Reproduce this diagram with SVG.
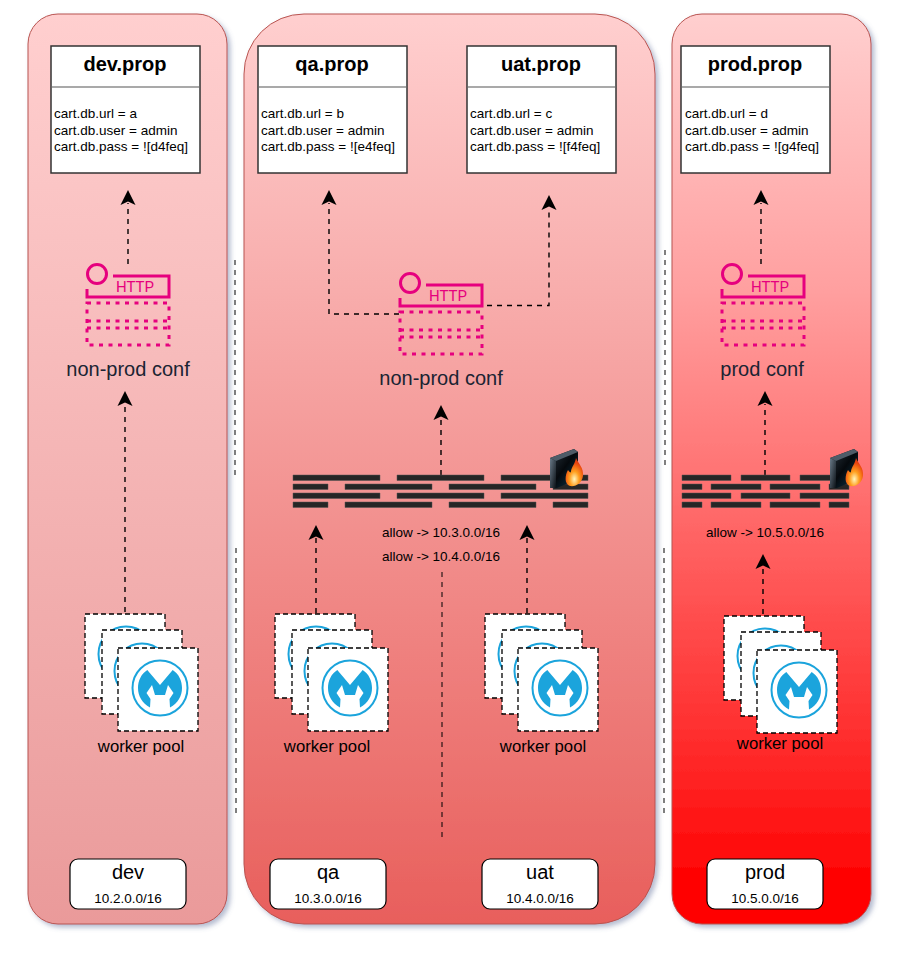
<svg xmlns="http://www.w3.org/2000/svg" width="900" height="954" viewBox="0 0 900 954">
<style>
text{font-family:"Liberation Sans",Arial,sans-serif;fill:#000}
.panel{stroke:#b85450;stroke-width:1;filter:url(#sh)}
.box{fill:#fff;stroke:#333;stroke-width:1.5}
.title{font-size:20px;font-weight:bold;text-anchor:middle}
.prop{font-size:13.5px}
.sep{stroke:#8c8c8c;stroke-width:1.5}
.plain{fill:none;stroke:#000;stroke-width:1.4;stroke-dasharray:5 5}
.div{fill:none;stroke:#000;stroke-width:1;stroke-dasharray:5 5}
.env{fill:#fff;stroke:#000;stroke-width:1.2}
.envt{font-size:20px;text-anchor:middle}
.envs{font-size:13.5px;text-anchor:middle}
.lab{font-size:20px;text-anchor:middle;fill:#1a2433}
.wp{font-size:16.7px;text-anchor:middle}
.allow{font-size:13.5px;text-anchor:middle}
.card{fill:#fff;stroke:#000;stroke-width:1.3;stroke-dasharray:5 3}
.mring{fill:none;stroke:#1ba4dc;stroke-width:2}
.wall{fill:#262626;stroke:#555;stroke-width:.5}
.pk{fill:none;stroke:#e6007e;stroke-width:3}
.pkd{fill:none;stroke:#e6007e;stroke-width:3;stroke-dasharray:4 5.500}
.http{font-size:15px;fill:#e6007e;text-anchor:middle;font-family:Roboto,"Liberation Sans",sans-serif}
</style>
<defs>
<linearGradient id="g1" x1="0" y1="0" x2="0" y2="1"><stop offset="0" stop-color="#ffcfcf"/><stop offset="1" stop-color="#ea9a9a"/></linearGradient>
<linearGradient id="g2" x1="0" y1="0" x2="0" y2="1"><stop offset="0" stop-color="#ffcfcf"/><stop offset="1" stop-color="#e85f5c"/></linearGradient>
<linearGradient id="g3" x1="0" y1="0" x2="0" y2="1"><stop offset="0" stop-color="#ffcfcf"/><stop offset=".3" stop-color="#ffa0a0"/><stop offset=".53" stop-color="#ff6e6e"/><stop offset=".85" stop-color="#ff2020"/><stop offset=".96" stop-color="#ff0000"/></linearGradient>
<linearGradient id="fb" x1="0" y1="0" x2="1" y2="1"><stop offset="0" stop-color="#6a7a88"/><stop offset="1" stop-color="#0a1015"/></linearGradient>
<linearGradient id="ff" x1="0" y1="0" x2="1" y2="1"><stop offset="0" stop-color="#2a3640"/><stop offset=".5" stop-color="#05090d"/><stop offset="1" stop-color="#0d3a50"/></linearGradient>
<radialGradient id="fl" cx=".5" cy=".75" r=".6"><stop offset="0" stop-color="#fff6c0"/><stop offset=".45" stop-color="#ffa020"/><stop offset="1" stop-color="#e8400c"/></radialGradient>
<filter id="sh" x="-5%" y="-5%" width="115%" height="110%"><feDropShadow dx="3" dy="3" stdDeviation="2.500" flood-color="#5a6a98" flood-opacity=".45"/></filter>
<path id="ah" d="M0 0-7.500 15 0 11.500 7.500 15Z" fill="#000"/>
<g id="api">
<circle cx="16" cy="13" r="9.500" class="pk"/>
<path class="pk" d="M32 15H88V36H6V28"/>
<text x="54" y="31" class="http">HTTP</text>
<rect x="6" y="42" width="82" height="42" class="pkd"/>
<path class="pkd" d="M6 60H88M6 67H88"/>
</g>
<g id="mule">
<circle r="27.500" class="mring"/>
<path fill="#1ba4dc" d="M-12.700-18 0-3 12.700-18C19-14 22-7 22 0 22 8 18 15 10 19.500L9.500 11 13.500 5 8-3 5 7H-5L-8-3-13.500 5-9.500 11-10 19.500C-18 15-22 8-22 0-22-7-19-14-12.700-18Z"/>
</g>
<g id="pool">
<rect x="0" y="0" width="80" height="84" class="card"/>
<circle cx="41" cy="40" r="27.500" class="mring"/>
<rect x="17" y="16" width="80" height="84" class="card"/>
<circle cx="57" cy="57" r="27.500" class="mring"/>
<rect x="33" y="34" width="80" height="83" class="card"/>
<use href="#mule" x="75" y="74"/>
</g>
<g id="fire">
<path fill="url(#ff)" d="M0 9 24 0 28 3V30L7 39H0Z"/>
<path fill="url(#fb)" d="M0 9 6 12V39H0Z"/>
<path fill="#4f5c68" d="M0 9 24 0 28 3 6 12Z"/>
<path fill="url(#fl)" d="M26 9C28 14 34 19 33 27 32 34 26 38 20 37 14 35 15 26 18 21 20 24 21 24 21 22 22 17 25 15 26 9Z"/>
</g>
</defs>

<g id="panel-dev"><rect x="28" y="14" width="199" height="910" rx="30" fill="url(#g1)" class="panel"/></g>
<g id="panel-mid"><rect x="244" y="14" width="411" height="910" rx="60" fill="url(#g2)" class="panel"/></g>
<g id="panel-prod"><rect x="672" y="14" width="199" height="910" rx="30" fill="url(#g3)" class="panel"/></g>

<g id="connectors">
<path class="plain" d="M128 264V203"/><use href="#ah" x="128" y="190"/>
<path class="plain" d="M125 612V404"/><use href="#ah" x="125" y="391"/>
<path class="plain" d="M399 314H329V203"/><use href="#ah" x="329" y="190"/>
<path class="plain" d="M487 305.500H549V208"/><use href="#ah" x="549" y="195"/>
<path class="plain" d="M441 475V418"/><use href="#ah" x="441" y="405"/>
<path class="plain" d="M316 613V538"/><use href="#ah" x="316" y="525"/>
<path class="plain" d="M527 613V538"/><use href="#ah" x="527" y="525"/>
<path class="div" d="M442 572V840"/>
<path class="plain" d="M761 264V203"/><use href="#ah" x="761" y="190"/>
<path class="plain" d="M765 475V404"/><use href="#ah" x="765" y="391"/>
<path class="plain" d="M763 614V567"/><use href="#ah" x="763" y="554"/>
<path class="div" d="M235 260V477"/><path class="div" d="M236 548V818"/>
<path class="div" d="M665 250V467"/><path class="div" d="M664 548V818"/>
</g>

<g id="prop-dev"><rect x="51" y="46" width="149" height="127" class="box"/><path class="sep" d="M52 87H199"/><text x="125" y="71" class="title">dev.prop</text><text x="54" y="118" class="prop">cart.db.url = a</text><text x="54" y="135" class="prop">cart.db.user = admin</text><text x="54" y="151" class="prop">cart.db.pass = ![d4feq]</text></g>
<g id="prop-qa"><rect x="258" y="46" width="149" height="127" class="box"/><path class="sep" d="M259 87H406"/><text x="332" y="71" class="title">qa.prop</text><text x="261" y="118" class="prop">cart.db.url = b</text><text x="261" y="135" class="prop">cart.db.user = admin</text><text x="261" y="151" class="prop">cart.db.pass = ![e4feq]</text></g>
<g id="prop-uat"><rect x="467" y="46" width="149" height="127" class="box"/><path class="sep" d="M468 87H615"/><text x="541" y="71" class="title">uat.prop</text><text x="470" y="118" class="prop">cart.db.url = c</text><text x="470" y="135" class="prop">cart.db.user = admin</text><text x="470" y="151" class="prop">cart.db.pass = ![f4feq]</text></g>
<g id="prop-prod"><rect x="681" y="46" width="149" height="127" class="box"/><path class="sep" d="M682 87H829"/><text x="755" y="71" class="title">prod.prop</text><text x="685" y="118" class="prop">cart.db.url = d</text><text x="685" y="135" class="prop">cart.db.user = admin</text><text x="685" y="151" class="prop">cart.db.pass = ![g4feq]</text></g>

<g id="api-dev"><use href="#api" x="81" y="261"/><text x="128" y="376" class="lab">non-prod conf</text></g>
<g id="api-mid"><use href="#api" x="394" y="270"/><text x="441" y="385" class="lab">non-prod conf</text></g>
<g id="api-prod"><use href="#api" x="716" y="261"/><text x="762" y="376" class="lab">prod conf</text></g>

<g id="firewall-mid">
<path class="wall" d="M293 475h87v5.500h-87zM397 475h87v5.500h-87zM501 475h87v5.500h-87zM293 484h35v5.500h-35zM345 484h87v5.500h-87zM449 484h87v5.500h-87zM553 484h35v5.500h-35zM293 493h87v5.500h-87zM397 493h87v5.500h-87zM501 493h87v5.500h-87zM293 502h35v5.500h-35zM345 502h87v5.500h-87zM449 502h87v5.500h-87zM553 502h35v5.500h-35z"/>
<use href="#fire" x="550" y="449"/>
<text x="441" y="537" class="allow">allow -&gt; 10.3.0.0/16</text>
<text x="441" y="561" class="allow">allow -&gt; 10.4.0.0/16</text>
</g>
<g id="firewall-prod">
<path class="wall" d="M682 475h49v5.500h-49zM741 475h49v5.500h-49zM800 475h49v5.500h-49zM682 484h20v5.500h-20zM711 484h50v5.500h-50zM770 484h50v5.500h-50zM829 484h20v5.500h-20zM682 493h49v5.500h-49zM741 493h49v5.500h-49zM800 493h49v5.500h-49zM682 502h20v5.500h-20zM711 502h50v5.500h-50zM770 502h50v5.500h-50zM829 502h20v5.500h-20z"/>
<use href="#fire" x="830" y="449"/>
<text x="765" y="537" class="allow">allow -&gt; 10.5.0.0/16</text>
</g>

<g id="pool-dev"><use href="#pool" x="85" y="614"/><text x="141" y="752" class="wp">worker pool</text></g>
<g id="pool-qa"><use href="#pool" x="275" y="614"/><text x="327" y="752" class="wp">worker pool</text></g>
<g id="pool-uat"><use href="#pool" x="485" y="614"/><text x="543" y="752" class="wp">worker pool</text></g>
<g id="pool-prod"><use href="#pool" x="724" y="616"/><text x="780" y="749" class="wp">worker pool</text></g>

<g id="env-dev"><rect x="70" y="859" width="116" height="50" rx="8" class="env"/><text x="128" y="879" class="envt">dev</text><text x="128" y="903" class="envs">10.2.0.0/16</text></g>
<g id="env-qa"><rect x="270" y="859" width="116" height="50" rx="8" class="env"/><text x="328" y="879" class="envt">qa</text><text x="328" y="903" class="envs">10.3.0.0/16</text></g>
<g id="env-uat"><rect x="482" y="859" width="116" height="50" rx="8" class="env"/><text x="540" y="879" class="envt">uat</text><text x="540" y="903" class="envs">10.4.0.0/16</text></g>
<g id="env-prod"><rect x="707" y="859" width="116" height="50" rx="8" class="env"/><text x="765" y="879" class="envt">prod</text><text x="765" y="903" class="envs">10.5.0.0/16</text></g>
</svg>
